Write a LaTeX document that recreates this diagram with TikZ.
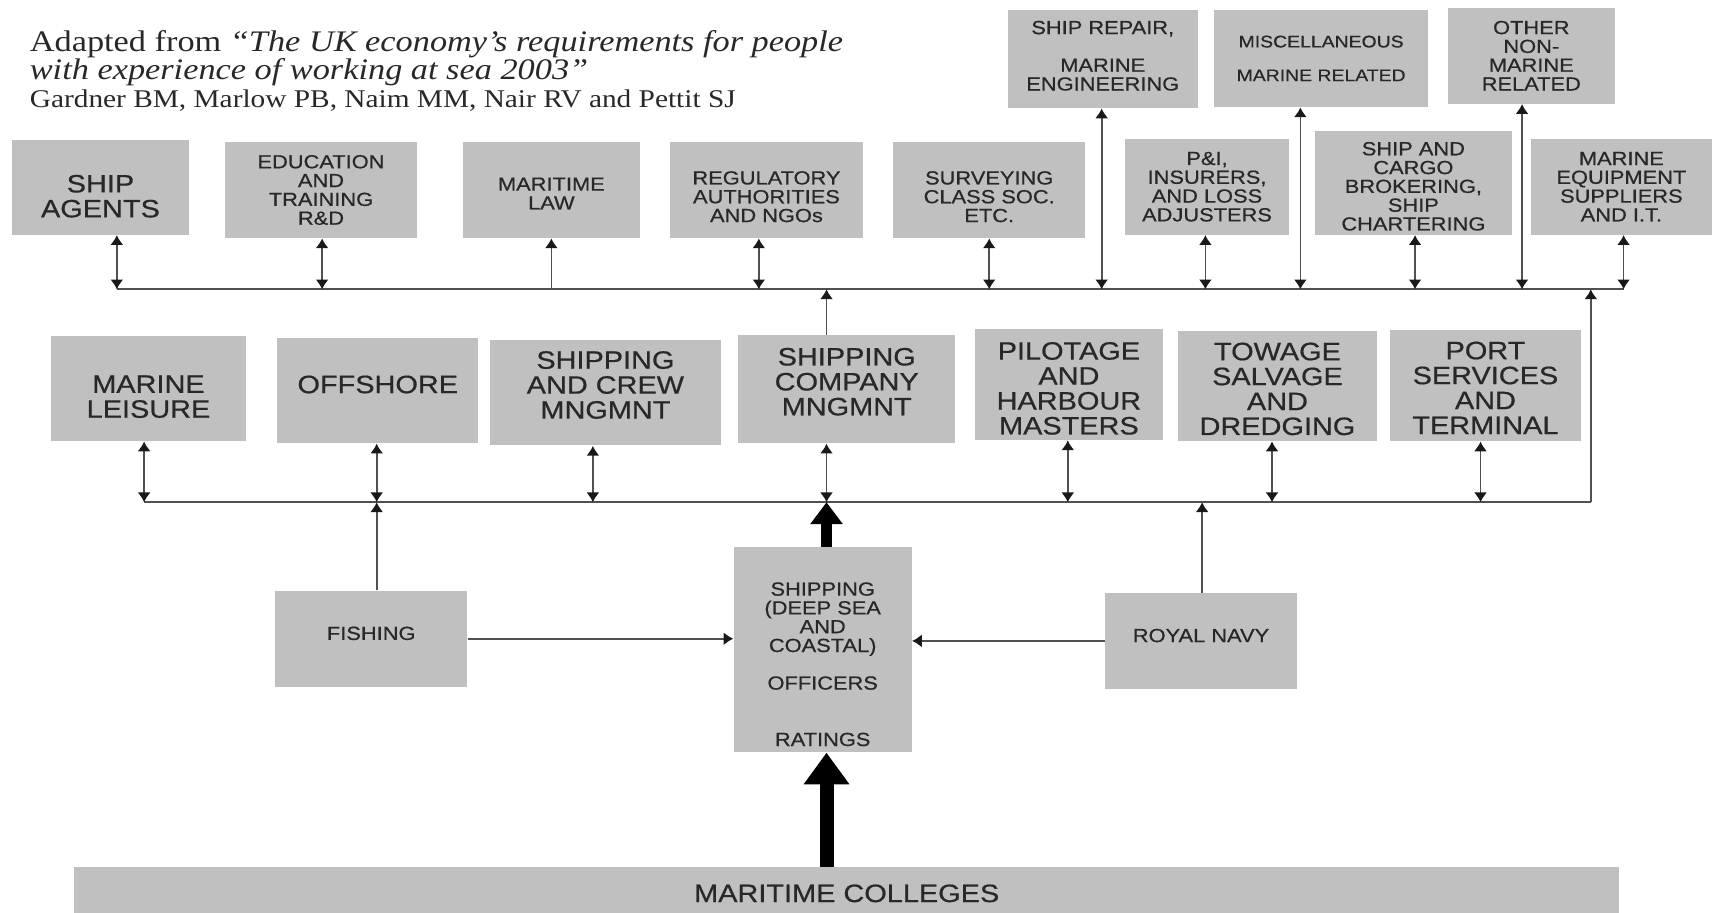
\documentclass[tikz,border=0pt]{standalone}
\usepackage{fontspec}
\setmainfont{Liberation Serif}[FakeStretch=1.15]
\setsansfont{Liberation Sans}[FakeStretch=1.15, FakeBold=0.6]
\usetikzlibrary{arrows.meta}

\definecolor{boxgray}{RGB}{192,192,192}
\definecolor{ink}{RGB}{40,40,40}
\definecolor{wire}{RGB}{80,80,80}

\newcommand{\pushdown}[1]{\rule{0pt}{#1}}

\tikzset{
  box/.style={fill=boxgray, text=ink, align=center, inner sep=0pt,
    font=\sffamily\fontsize{9.9}{9.8}\selectfont},
  bigbox/.style={box, font=\sffamily\fontsize{13.1}{13}\selectfont},
  lift/.style={execute at end node={\rule[-#1]{0pt}{0pt}}},
  bus/.style={draw=wire, line width=1pt},
  link/.style={draw=wire, line width=0.9pt, <->},
  feed/.style={draw=wire, line width=0.9pt, ->},
  fat/.style={line width=5.7pt, -{Triangle[length=4mm,width=5.7mm]}},
  fatter/.style={line width=7.3pt, -{Triangle[length=5.8mm,width=8mm]}},
}

\begin{document}
\begin{tikzpicture}[x=0.02cm, y=-0.02cm, >={Latex[length=1.8mm,width=2.4mm,color=black!90]}]
    \useasboundingbox (0,0) rectangle (1568,836);

    % source line
    \node[anchor=base west, inner sep=0pt, text=ink, font=\fontsize{15.55}{15}\selectfont] (title) at (27,47)
        {Adapted from \textit{“The UK economy’s requirements for people}};
    \node[anchor=base west, inner sep=0pt, text=ink, font=\fontsize{15.55}{15}\selectfont] (title2) at (27,73)
        {\textit{with experience of working at sea 2003”}};
    \node[anchor=base west, inner sep=0pt, text=ink, font=\fontsize{13.3}{13}\selectfont] (authors) at (27,98)
        {Gardner BM, Marlow PB, Naim MM, Nair RV and Pettit SJ};

    % top row
    \node[bigbox, minimum width=3.24cm, minimum height=1.74cm] (agents) at (92,171.5) {\pushdown{0.65cm}SHIP\\AGENTS};
    \node[box, minimum width=3.52cm, minimum height=1.76cm] (edu) at (294,174) {EDUCATION\\AND\\TRAINING\\R\&D};
    \node[box, minimum width=3.24cm, minimum height=1.76cm] (law) at (505,174) {\pushdown{0.37cm}MARITIME\\LAW};
    \node[box, minimum width=3.52cm, minimum height=1.76cm] (reg) at (702,174) {\pushdown{0.49cm}REGULATORY\\AUTHORITIES\\AND NGOs};
    \node[box, minimum width=3.52cm, minimum height=1.76cm] (survey) at (906,174) {\pushdown{0.49cm}SURVEYING\\CLASS SOC.\\ETC.};
    \node[box, lift=0.12cm, minimum width=3.48cm, minimum height=1.80cm] (repair) at (1010,54) {SHIP REPAIR,\\[9.8pt]MARINE\\ENGINEERING};
    \node[box, minimum width=3.92cm, minimum height=1.78cm, font=\sffamily\fontsize{8.8}{8.8}\selectfont] (misc) at (1210,53.5)
        {MISCELLANEOUS\\[8.8pt]MARINE RELATED};
    \node[box, minimum width=3.06cm, minimum height=1.76cm] (other) at (1402.5,51) {OTHER\\NON-\\MARINE\\RELATED};
    \node[box, minimum width=3.02cm, minimum height=1.76cm] (pandi) at (1105.5,171) {P\&I,\\INSURERS,\\AND LOSS\\ADJUSTERS};
    \node[box, minimum width=3.62cm, minimum height=1.90cm] (broker) at (1294.5,167.5) {\pushdown{0.37cm}SHIP AND\\CARGO\\BROKERING,\\SHIP\\CHARTERING};
    \node[box, minimum width=3.32cm, minimum height=1.76cm] (equip) at (1485,171) {MARINE\\EQUIPMENT\\SUPPLIERS\\AND I.T.};

    % middle row
    \node[bigbox, minimum width=3.56cm, minimum height=1.92cm] (leisure) at (136,356) {\pushdown{0.61cm}MARINE\\LEISURE};
    \node[bigbox, lift=0.24cm, minimum width=3.68cm, minimum height=1.92cm] (offshore) at (346,358) {OFFSHORE};
    \node[bigbox, lift=0.28cm, minimum width=4.22cm, minimum height=1.94cm] (crew) at (554.5,359.5) {SHIPPING\\AND CREW\\MNGMNT};
    \node[bigbox, lift=0.28cm, minimum width=3.98cm, minimum height=1.98cm] (company) at (775.5,356.5) {SHIPPING\\COMPANY\\MNGMNT};
    \node[bigbox, minimum width=3.44cm, minimum height=2.04cm] (pilot) at (979,352) {\pushdown{0.47cm}PILOTAGE\\AND\\HARBOUR\\MASTERS};
    \node[bigbox, minimum width=3.64cm, minimum height=2.02cm] (towage) at (1170,353.5) {\pushdown{0.43cm}TOWAGE\\SALVAGE\\AND\\DREDGING};
    \node[bigbox, minimum width=3.50cm, minimum height=2.04cm] (port) at (1360.5,353) {\pushdown{0.41cm}PORT\\SERVICES\\AND\\TERMINAL};

    % bottom part
    \node[box, lift=0.2cm, minimum width=3.52cm, minimum height=1.76cm] (fishing) at (340,585) {FISHING};
    \node[box, minimum width=3.26cm, minimum height=3.76cm] (deep) at (753.5,595) {};
    \node[box, fill=none, anchor=north] (deeptext) at (753.5,533)
        {SHIPPING\\(DEEP SEA\\AND\\COASTAL)\\[9.8pt]OFFICERS\\[19.6pt]RATINGS};
    \node[box, lift=0.2cm, minimum width=3.52cm, minimum height=1.76cm] (navy) at (1100,587) {ROYAL NAVY};
    \node[bigbox, minimum width=28.3cm, minimum height=0.84cm] (colleges) at (775.5,815) {\pushdown{0.45cm}MARITIME COLLEGES};

    % bus points
    \coordinate (t1) at (107,265); \coordinate (t2) at (295,265); \coordinate (t3) at (505,265);
    \coordinate (t4) at (695,265); \coordinate (t5) at (906,265); \coordinate (t6) at (1009,265);
    \coordinate (t7) at (1104,265); \coordinate (t8) at (1191,265); \coordinate (t9) at (1296,265);
    \coordinate (t10) at (1394,265); \coordinate (t11) at (1487,265);
    \coordinate (tc) at (757,265); \coordinate (tz) at (1457,265);
    \coordinate (m1) at (132,460); \coordinate (m2) at (345,460); \coordinate (m3) at (543,460);
    \coordinate (m4) at (757,460); \coordinate (m5) at (978,460); \coordinate (m6) at (1165,460);
    \coordinate (m7) at (1356,460); \coordinate (mn) at (1101,460); \coordinate (mz) at (1457,460);

    \draw[bus] (t1) -- (t11);
    \draw[bus] (m1) -- (mz);
    \draw[feed] (mz) -- (tz);

    % top links
    \draw[link] (agents.south -| t1) -- (t1); \draw[link] (edu.south -| t2) -- (t2);
    \draw[feed] (t3) -- (law.south -| t3); \draw[link] (reg.south -| t4) -- (t4);
    \draw[link] (survey.south -| t5) -- (t5); \draw[link] (repair.south -| t6) -- (t6);
    \draw[link] (pandi.south -| t7) -- (t7); \draw[link] (misc.south -| t8) -- (t8);
    \draw[link] (broker.south -| t9) -- (t9); \draw[link] (other.south -| t10) -- (t10);
    \draw[link] (equip.south -| t11) -- (t11);
    \draw[feed] (company.north -| tc) -- (tc);

    % middle links
    \draw[link] (leisure.south -| m1) -- (m1); \draw[link] (offshore.south -| m2) -- (m2);
    \draw[link] (crew.south -| m3) -- (m3); \draw[link] (company.south -| m4) -- (m4);
    \draw[link] (pilot.south -| m5) -- (m5); \draw[link] (towage.south -| m6) -- (m6);
    \draw[link] (port.south -| m7) -- (m7);

    % feeders
    \draw[feed] (fishing.north -| m2) -- (m2);
    \draw[feed] (navy.north -| mn) -- (mn);
    \draw[feed] (fishing.east) -- (fishing.east -| deep.west);
    \draw[feed] (navy.west) -- (navy.west -| deep.east);
    \draw[fat] (deep.north -| m4) -- (m4);
    \draw[fatter] (colleges.north -| m4) -- (deep.south -| m4);
\end{tikzpicture}
\end{document}
